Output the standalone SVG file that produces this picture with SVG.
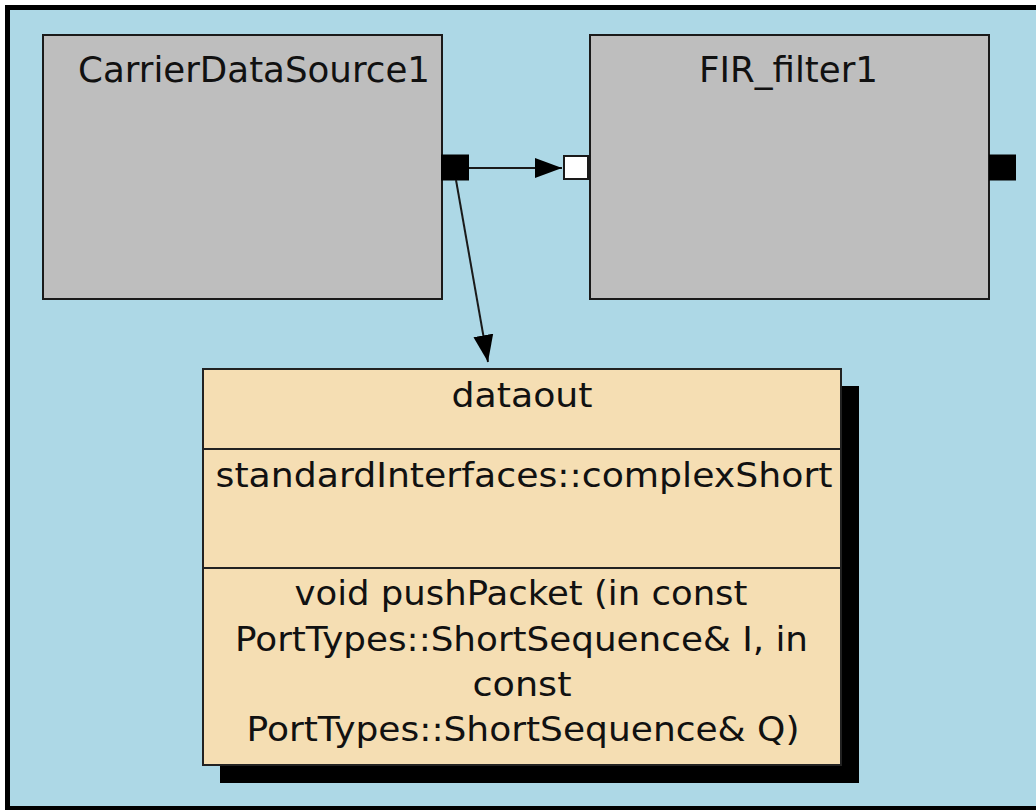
<svg xmlns="http://www.w3.org/2000/svg" width="1036" height="810" viewBox="0 0 1036 810">
  <style>
    .bg { fill: #ADD8E6; }
    .edge { stroke: #000; stroke-width: 5; fill: none; }
    .comp { fill: #BEBEBE; stroke: #1a1a1a; stroke-width: 2; }
    .title { font-family: "DejaVu Sans", "Liberation Sans", sans-serif; font-size: 36px; fill: #111; }
    .txt { font-family: "DejaVu Sans", "Liberation Sans", sans-serif; font-size: 33px; fill: #111; text-anchor: middle; }
    .portOut { fill: #000; stroke: #000; stroke-width: 1; }
    .portIn { fill: #fff; stroke: #1a1a1a; stroke-width: 2; }
    .iface { fill: #F5DEB3; stroke: #222; stroke-width: 2; }
    .shadow { fill: #000; }
    .div { stroke: #222; stroke-width: 2; }
    .conn { fill: none; stroke: #1a1a1a; stroke-width: 2; }
  </style>
  <defs>
    <marker id="arrow" markerUnits="userSpaceOnUse" markerWidth="28" markerHeight="22" refX="27" refY="11" orient="auto">
      <path d="M0,1 L27,11 L0,21 Z" fill="#000"/>
    </marker>
  </defs>
  <rect width="1036" height="810" fill="#fff"/>
  <rect class="bg" x="7.5" y="7.5" width="1040" height="801"/>
  <path class="edge" d="M1100,7.5 L7.5,7.5 L7.5,808.5 L1100,808.5"/>

  <g id="CarrierDataSource1">
    <rect class="comp" x="43" y="35" width="399" height="264"/>
    <text class="title" x="78" y="82" textLength="352" lengthAdjust="spacingAndGlyphs">CarrierDataSource1</text>
    <rect id="CarrierDataSource1-dataout" class="portOut" x="441.5" y="155" width="27" height="25"/>
  </g>

  <g id="FIR_filter1">
    <rect class="comp" x="590" y="35" width="399" height="264"/>
    <text class="title" x="699" y="82" textLength="179" lengthAdjust="spacingAndGlyphs">FIR_filter1</text>
    <rect id="FIR_filter1-in" class="portIn" x="564" y="156" width="24" height="23"/>
    <rect id="FIR_filter1-out" class="portOut" x="989.5" y="155" width="26" height="25"/>
  </g>

  <g id="dataout">
    <rect class="shadow" x="220" y="386" width="639" height="397"/>
    <rect class="iface" x="203" y="369" width="638" height="396"/>
    <line class="div" x1="203" y1="449" x2="841" y2="449"/>
    <line class="div" x1="203" y1="568" x2="841" y2="568"/>
    <text class="txt" x="522" y="407" textLength="141" lengthAdjust="spacingAndGlyphs">dataout</text>
    <text class="txt" x="524" y="487" textLength="617" lengthAdjust="spacingAndGlyphs">standardInterfaces::complexShort</text>
    <text class="txt" x="521" y="605" textLength="453" lengthAdjust="spacingAndGlyphs">void pushPacket (in const</text>
    <text class="txt" x="521.5" y="651" textLength="573" lengthAdjust="spacingAndGlyphs">PortTypes::ShortSequence&amp; I, in</text>
    <text class="txt" x="522" y="696" textLength="99" lengthAdjust="spacingAndGlyphs">const</text>
    <text class="txt" x="523" y="741" textLength="553" lengthAdjust="spacingAndGlyphs">PortTypes::ShortSequence&amp; Q)</text>
  </g>

  <g id="connectors">
    <path class="conn" d="M469,168 L562,168" marker-end="url(#arrow)"/>
    <path class="conn" d="M456,180 L488,362" marker-end="url(#arrow)"/>
  </g>
</svg>
